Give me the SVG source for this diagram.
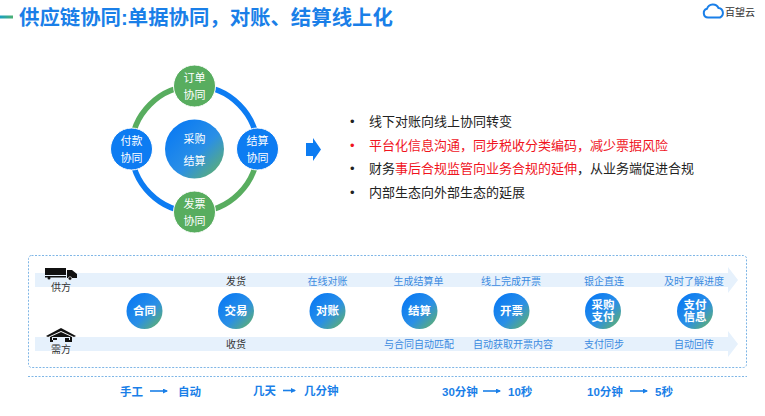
<svg xmlns="http://www.w3.org/2000/svg" width="765" height="416" viewBox="0 0 765 416">
<style>
text{font-family:"Liberation Sans","Noto Sans CJK SC",sans-serif}
.c{text-anchor:middle}
.w{fill:#fff;font-size:11px}
.wb{fill:#fff;font-size:11.5px;font-weight:700}
.b{fill:#222;font-size:13px}
.r{fill:#f0141e}
.s{font-size:10px;fill:#333}
.l{font-size:10px;fill:#3a8ae0}
.t{font-size:11.5px;font-weight:700;fill:#1a7fe8}
.blue{fill:#0d7cf2}
.green{fill:#58ad5f}
.band{fill:#e6f1fc}
.ring{fill:none;stroke-width:5.5}
.flow{stroke:#1a7fe8;stroke-width:1.6;fill:none;marker-end:url(#ah)}
</style>
<defs>
<linearGradient id="g" x1="0.15" y1="0.15" x2="0.9" y2="0.9"><stop offset="0" stop-color="#0d7cf2"/><stop offset="0.55" stop-color="#2a8fe6"/><stop offset="1" stop-color="#5bad7a"/></linearGradient>
<linearGradient id="d" x1="0" x2="1" y1="0" y2="0"><stop offset="0" stop-color="#1aa0c0"/><stop offset="1" stop-color="#4cb070"/></linearGradient>
<marker id="ah" markerWidth="6" markerHeight="6" refX="4" refY="2.5" orient="auto" markerUnits="userSpaceOnUse"><path d="M0 0L5 2.500L0 5z" fill="#1a7fe8"/></marker>
</defs>
<rect width="765" height="416" fill="#fff"/>
<g id="header">
<rect x="0" y="15.500" width="13" height="3" fill="url(#d)"/>
<text x="19" y="24.500" font-size="20.400" font-weight="700" fill="#1a7fe8">供应链协同:单据协同，对账、结算线上化</text>
</g>
<g id="logo">
<path d="M708 17.500a4.500 4.500 0 0 1-1-8.800a6.200 6.200 0 0 1 11.500-.7a5 5 0 0 1 1.500 9.500z" fill="none" stroke="#1a7fe8" stroke-width="2"/>
<text x="725" y="16" font-size="10" fill="#333">百望云</text>
</g>
<g id="ring-connectors">
<path class="ring" stroke="#0d7cf2" d="M194.500 86A63 63 0 0 1 257.500 149"/>
<path class="ring" stroke="#58ad5f" d="M257.500 149A63 63 0 0 1 194.500 212"/>
<path class="ring" stroke="#0d7cf2" d="M194.500 212A63 63 0 0 1 131.500 149"/>
<path class="ring" stroke="#58ad5f" d="M131.500 149A63 63 0 0 1 194.500 86"/>
</g>
<g id="node-order"><circle cx="194.500" cy="86" r="21" class="green" stroke="#fff"/><text class="w c" x="194.500" y="82">订单</text><text class="w c" x="194.500" y="99">协同</text></g>
<g id="node-settle"><circle cx="257.500" cy="149" r="21" class="blue" stroke="#fff"/><text class="w c" x="257.500" y="145">结算</text><text class="w c" x="257.500" y="162">协同</text></g>
<g id="node-invoice"><circle cx="194.500" cy="212" r="21" class="green" stroke="#fff"/><text class="w c" x="194.500" y="208">发票</text><text class="w c" x="194.500" y="225">协同</text></g>
<g id="node-pay"><circle cx="131.500" cy="149" r="21" class="blue" stroke="#fff"/><text class="w c" x="131.500" y="145">付款</text><text class="w c" x="131.500" y="162">协同</text></g>
<g id="node-center"><circle cx="194.500" cy="149" r="29.500" fill="url(#g)"/><text class="w c" x="194.500" y="143">采购</text><text class="w c" x="194.500" y="165">结算</text></g>
<g id="big-arrow"><path d="M306 143H313V138L321 149.500L313 161V156H306z" class="blue"/></g>
<g id="bullets">
<text class="b" x="350" y="126">•</text><text class="b" x="369" y="126">线下对账向线上协同转变</text>
<text class="b r" x="350" y="150">•</text><text class="b r" x="369" y="150">平台化信息沟通，同步税收分类编码，减少票据风险</text>
<text class="b" x="350" y="173">•</text><text class="b" x="369" y="173">财务<tspan class="r">事后合规监管向业务合规的延伸</tspan>，从业务端促进合规</text>
<text class="b" x="350" y="197">•</text><text class="b" x="369" y="197">内部生态向外部生态的延展</text>
</g>
<g id="flow-frame">
<rect x="28.500" y="255.500" width="718" height="112" rx="3" fill="none" stroke="#7fb6e6" stroke-dasharray="2 1.500"/>
<path d="M28 376.500H747" stroke="#7fb6e6" stroke-dasharray="2 1.500" fill="none"/>
<path class="band" d="M35 273H728V267L738 280L728 293V287H35z"/>
<path class="band" d="M35 337H728V331L738 344L728 357V351H35z"/>
</g>
<g id="supplier">
<path d="M45 268H66V275H45zM67 270H72L77 274V278H67z" fill="#111"/><path d="M45 276H66V277.500H45z" fill="#111"/><circle cx="49" cy="278" r="1.500" fill="#111"/><circle cx="70" cy="278.500" r="1.800" fill="#111" stroke="#fff" stroke-width=".6"/>
<text class="s c" x="61" y="291">供方</text>
</g>
<g id="demand">
<path d="M46 336L61 328L76 336L74 337L61 331L48 337z" fill="#111"/><path d="M50 337L61 332L72 337V342H65V338H69V340H70V337H52V340H57V338H53V342H50z" fill="#111"/>
<text class="s c" x="61" y="353">需方</text>
</g>
<g id="node-contract"><circle cx="144.500" cy="311" r="18" fill="url(#g)"/><text class="wb c" x="144.500" y="315">合同</text></g>
<g id="node-trade"><circle cx="236" cy="311" r="18" fill="url(#g)"/><text class="wb c" x="236" y="315">交易</text></g>
<g id="node-recon"><circle cx="327.500" cy="311" r="18" fill="url(#g)"/><text class="wb c" x="327.500" y="315">对账</text></g>
<g id="node-settlement"><circle cx="419.500" cy="311" r="18" fill="url(#g)"/><text class="wb c" x="419.500" y="315">结算</text></g>
<g id="node-billing"><circle cx="511.500" cy="311" r="18" fill="url(#g)"/><text class="wb c" x="511.500" y="315">开票</text></g>
<g id="node-purchase"><circle cx="603" cy="311" r="18" fill="url(#g)"/><text class="wb c" x="603" y="309">采购</text><text class="wb c" x="603" y="321">支付</text></g>
<g id="node-payinfo"><circle cx="695" cy="311" r="18" fill="url(#g)"/><text class="wb c" x="695" y="309">支付</text><text class="wb c" x="695" y="321">信息</text></g>
<g id="labels-top">
<text class="s c" x="236" y="285">发货</text>
<text class="l c" x="327.500" y="285">在线对账</text>
<text class="l c" x="418.500" y="285">生成结算单</text>
<text class="l c" x="511" y="285">线上完成开票</text>
<text class="l c" x="604" y="285">银企直连</text>
<text class="l c" x="694" y="285">及时了解进度</text>
</g>
<g id="labels-bottom">
<text class="s c" x="236" y="348">收货</text>
<text class="l c" x="419" y="348">与合同自动匹配</text>
<text class="l c" x="513" y="348">自动获取开票内容</text>
<text class="l c" x="604" y="348">支付同步</text>
<text class="l c" x="694" y="348">自动回传</text>
</g>
<g id="metrics">
<text class="t" x="120" y="396">手工</text><path class="flow" d="M150 391H167"/><text class="t" x="178" y="396">自动</text>
<text class="t" x="253" y="395">几天</text><path class="flow" d="M283 390.500H295"/><text class="t" x="304" y="395">几分钟</text>
<text class="t" x="442" y="396">30分钟</text><path class="flow" d="M483 391H500"/><text class="t" x="508" y="396">10秒</text>
<text class="t" x="587" y="396">10分钟</text><path class="flow" d="M630 391H647"/><text class="t" x="655" y="396">5秒</text>
</g>
</svg>
